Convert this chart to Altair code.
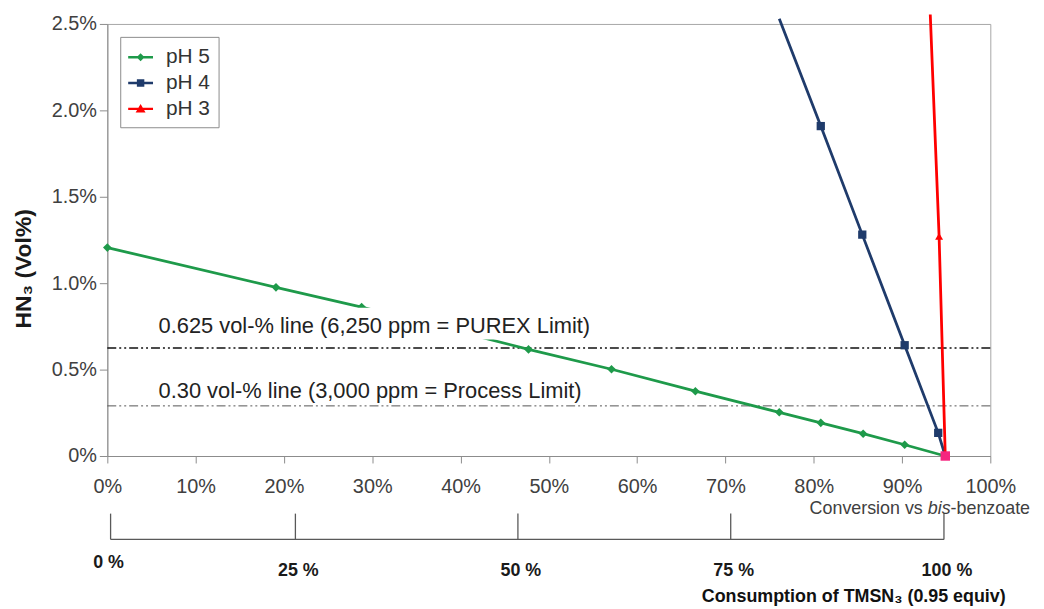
import altair as alt
import pandas as pd

# ---------------- data ----------------
SERIES = ["pH 5", "pH 4", "pH 3"]
SERIES_COLORS = ["#1e9a4a", "#1f3b6b", "#ff0000"]
MARKER_SHAPES = ["diamond", "square", "triangle-up"]
MARKER_SIZES = [75, 64, 110]

PH5_X = [0.0, 19.1, 28.8, 47.7, 57.1, 66.6, 76.1, 80.8, 85.6, 90.3]
PH5_Y = [1.206, 0.976, 0.862, 0.617, 0.502, 0.375, 0.253, 0.192, 0.129, 0.065]
PH4_X = [76.1, 80.8, 85.5, 90.3, 94.1]
PH4_Y = [2.53, 1.909, 1.281, 0.641, 0.134]
PH3_X = [93.2, 94.2]
PH3_Y = [2.555, 1.271]
END_X = 94.9          # common end point (pink marker)
END_Y = 0.0

LIMITS = [0.625, 0.29]
LIMIT_LABELS = ["0.625 vol-% line (6,250 ppm = PUREX Limit)",
                "0.30 vol-% line (3,000 ppm = Process Limit)"]
LABEL_X = [5.8, 5.8]
LABEL_Y = [0.75, 0.375]
LABEL_BOX = {"bx": [5.0], "bx2": [55.8], "by": [0.674], "by2": [0.858]}

X_TICKS = [0, 10, 20, 30, 40, 50, 60, 70, 80, 90, 100]
Y_TICKS = [0, 0.5, 1.0, 1.5, 2.0, 2.5]
SEC_TICK_POS = [0.37, 21.3, 46.5, 70.6, 94.75]
SEC_TICK_LABELS = ["0 %", "25 %", "50 %", "75 %", "100 %"]
CONV_PARTS = ["Conversion vs", "bis", "-benzoate"]

Y_TITLE = "HN\u2083 (Vol%)"
SEC_TITLE = "Consumption of TMSN\u2083 (0.95 equiv)"
Y_MAX = 2.5

LEGEND_PATHS = [
    "M-1,-0.1H1V0.1H-1Z M0,-0.32L0.32,0L0,0.32L-0.32,0Z",
    "M-1,-0.1H1V0.1H-1Z M-0.3,-0.3H0.3V0.3H-0.3Z",
    "M-1,-0.1H1V0.1H-1Z M0,-0.4L0.4,0.3H-0.4Z",
]

# ---------------- tables ----------------
rows = []
for s, xs, ys in zip(SERIES, [PH5_X, PH4_X, PH3_X], [PH5_Y, PH4_Y, PH3_Y]):
    for i, (xv, yv) in enumerate(zip(xs + [END_X], ys + [END_Y])):
        rows.append({"series": s, "x": xv, "y": yv, "order": i})
line_df = pd.DataFrame(rows)
marker_df = line_df[(line_df["y"] <= Y_MAX) & ~((line_df["x"] == END_X) & (line_df["y"] == END_Y))]
end_df = pd.DataFrame({"x": [END_X], "y": [END_Y]})
lim_df = pd.DataFrame({"value": LIMITS})
label_df = pd.DataFrame({"lx": LABEL_X, "ly": LABEL_Y, "label": LIMIT_LABELS})
box_df = pd.DataFrame(LABEL_BOX)
sec_df = pd.DataFrame({"pos": SEC_TICK_POS, "label": SEC_TICK_LABELS})

# ---------------- scales / axes ----------------
x_scale = alt.Scale(domain=[0, 100], nice=False, zero=False)
y_scale = alt.Scale(domain=[0, 2.5], nice=False)
color_scale = alt.Scale(domain=SERIES, range=SERIES_COLORS)

AX_GRAY = "#8c8c8c"
x_axis = alt.Axis(values=X_TICKS, labelExpr="datum.value + '%'", tickSize=7,
                  labelPadding=14, labelFontSize=20, labelColor="#404040",
                  labelFlush=False, labelOverlap=False,
                  domainColor=AX_GRAY, tickColor=AX_GRAY, grid=False, title=None)
y_axis = alt.Axis(values=Y_TICKS,
                  labelExpr="datum.value == 0 ? '0%' : format(datum.value, '.1f') + '%'",
                  tickSize=8, labelPadding=3, labelFontSize=20, labelColor="#404040",
                  domainColor=AX_GRAY, tickColor=AX_GRAY, grid=False,
                  title=Y_TITLE, titleFontSize=23, titleFontWeight="bold",
                  titleColor="#1a1a1a", titleX=-84, titleY=246,
                  titleAlign="center", titleBaseline="middle")

X = lambda f: alt.X(f, scale=x_scale, title=None)
Y = lambda f: alt.Y(f, scale=y_scale, title=Y_TITLE)

# ---------------- main panel ----------------
limits = alt.Chart(lim_df).mark_rule(strokeDash=[9, 3, 2, 3, 2, 3]).encode(
    y=Y("value:Q"),
    color=alt.condition("datum.value > 0.5", alt.value("#111111"), alt.value("#555555")),
    strokeWidth=alt.condition("datum.value > 0.5", alt.value(1.7), alt.value(1.0)),
)

lines = alt.Chart(line_df).mark_line(strokeWidth=2.8).encode(
    x=alt.X("x:Q", scale=x_scale, axis=x_axis),
    y=alt.Y("y:Q", scale=y_scale, axis=y_axis),
    color=alt.Color("series:N", scale=color_scale, legend=None),
    order="order:Q",
)

markers = alt.Chart(marker_df).mark_point(filled=True, opacity=1, strokeWidth=0).encode(
    x=X("x:Q"), y=Y("y:Q"),
    color=alt.Color("series:N", scale=color_scale, legend=None),
    shape=alt.Shape("series:N", scale=alt.Scale(domain=SERIES, range=MARKER_SHAPES), legend=None),
    size=alt.Size("series:N", scale=alt.Scale(domain=SERIES, range=MARKER_SIZES), legend=None),
)

end_pt = alt.Chart(end_df).mark_point(shape="square", filled=True, opacity=1,
                                      size=90, color="#f5267f").encode(
    x=X("x:Q"), y=Y("y:Q"))

legend_layer = alt.Chart(marker_df).transform_filter("false").mark_point(
    filled=True, opacity=1).encode(
    x=X("x:Q"), y=Y("y:Q"),
    color=alt.Color("series:N", scale=color_scale,
                    legend=alt.Legend(title=None, orient="top-left", offset=13)),
    shape=alt.Shape("series:N", scale=alt.Scale(domain=SERIES, range=LEGEND_PATHS),
                    legend=alt.Legend(title=None, orient="top-left", offset=13)),
)

box = alt.Chart(box_df).mark_rect(color="white").encode(
    x=X("bx:Q"), x2="bx2:Q", y=Y("by:Q"), y2="by2:Q")

labels = alt.Chart(label_df).mark_text(align="left", baseline="middle",
                                       fontSize=22, color="#222222").encode(
    x=X("lx:Q"), y=Y("ly:Q"), text="label:N")

main = alt.layer(limits, lines, markers, end_pt, legend_layer, box, labels).resolve_scale(
    color="independent", shape="independent", size="independent"
).properties(width=889, height=435, view=alt.ViewBackground(stroke="#a6a6a6"))

# ---------------- secondary axis panel ----------------
SEC_GRAY = "#595959"
sec_x_axis = alt.Axis(domain=False, ticks=False, labels=False, grid=False,
                      title=SEC_TITLE, titleFontSize=18, titleFontWeight="bold",
                      titleColor="#111111", titleX=751, titleY=57,
                      titleAlign="center", titleBaseline="middle")
YD0 = alt.YDatum(0, type="quantitative", scale=alt.Scale(domain=[0, 1]), axis=None)

sec_ticks = alt.Chart(sec_df).mark_rule(color=SEC_GRAY, strokeWidth=1.3).encode(
    x=alt.X("pos:Q", scale=x_scale, axis=sec_x_axis),
    y=YD0, y2=alt.Y2Datum(1))

sec_base = alt.Chart(sec_df).mark_rule(color=SEC_GRAY, strokeWidth=1.3).encode(
    x=alt.X("min(pos):Q", scale=x_scale, title=SEC_TITLE),
    x2="max(pos):Q", y=YD0)

sec_labels_first = alt.Chart(sec_df).transform_filter("datum.label == '0 %'").mark_text(
    fontSize=18, fontWeight="bold", color="#1a1a1a", baseline="middle", dy=24, dx=-2).encode(
    x=alt.X("pos:Q", scale=x_scale, title=SEC_TITLE), y=YD0, text="label:N")
sec_labels_rest = alt.Chart(sec_df).transform_filter("datum.label != '0 %'").mark_text(
    fontSize=18, fontWeight="bold", color="#1a1a1a", baseline="middle", dy=32, dx=3).encode(
    x=alt.X("pos:Q", scale=x_scale, title=SEC_TITLE), y=YD0, text="label:N")

conv_dx = [-68, -40, 40]
conv_style = ["normal", "italic", "normal"]
conv_layers = []
for part, dx, st in zip(CONV_PARTS, conv_dx, conv_style):
    conv_layers.append(
        alt.Chart(pd.DataFrame({"t": [part]})).mark_text(
            fontSize=18, color="#404040", align="right", baseline="middle",
            dx=dx, dy=-5, fontStyle=st).encode(
            x=alt.XDatum(100, type="quantitative", scale=x_scale, title=SEC_TITLE),
            y=alt.YDatum(1, type="quantitative", scale=alt.Scale(domain=[0, 1]), axis=None),
            text="t:N"))

sec = alt.layer(sec_ticks, sec_base, sec_labels_first, sec_labels_rest, *conv_layers).properties(
    width=889, height=26, view=alt.ViewBackground(stroke="transparent"))

chart = alt.vconcat(main, sec, spacing=58, bounds="flush").properties(
    padding={"left": 4, "top": -2, "right": 5, "bottom": 5}
).configure(font="Liberation Sans").configure_legend(
    padding=8, strokeColor="#8c8c8c", fillColor="white", symbolSize=625,
    rowPadding=3, labelOffset=13, labelFontSize=21, labelColor="#333333",
    symbolStrokeWidth=0, cornerRadius=0)

chart.save("out.html", embed_options={"renderer": "svg", "actions": False})
